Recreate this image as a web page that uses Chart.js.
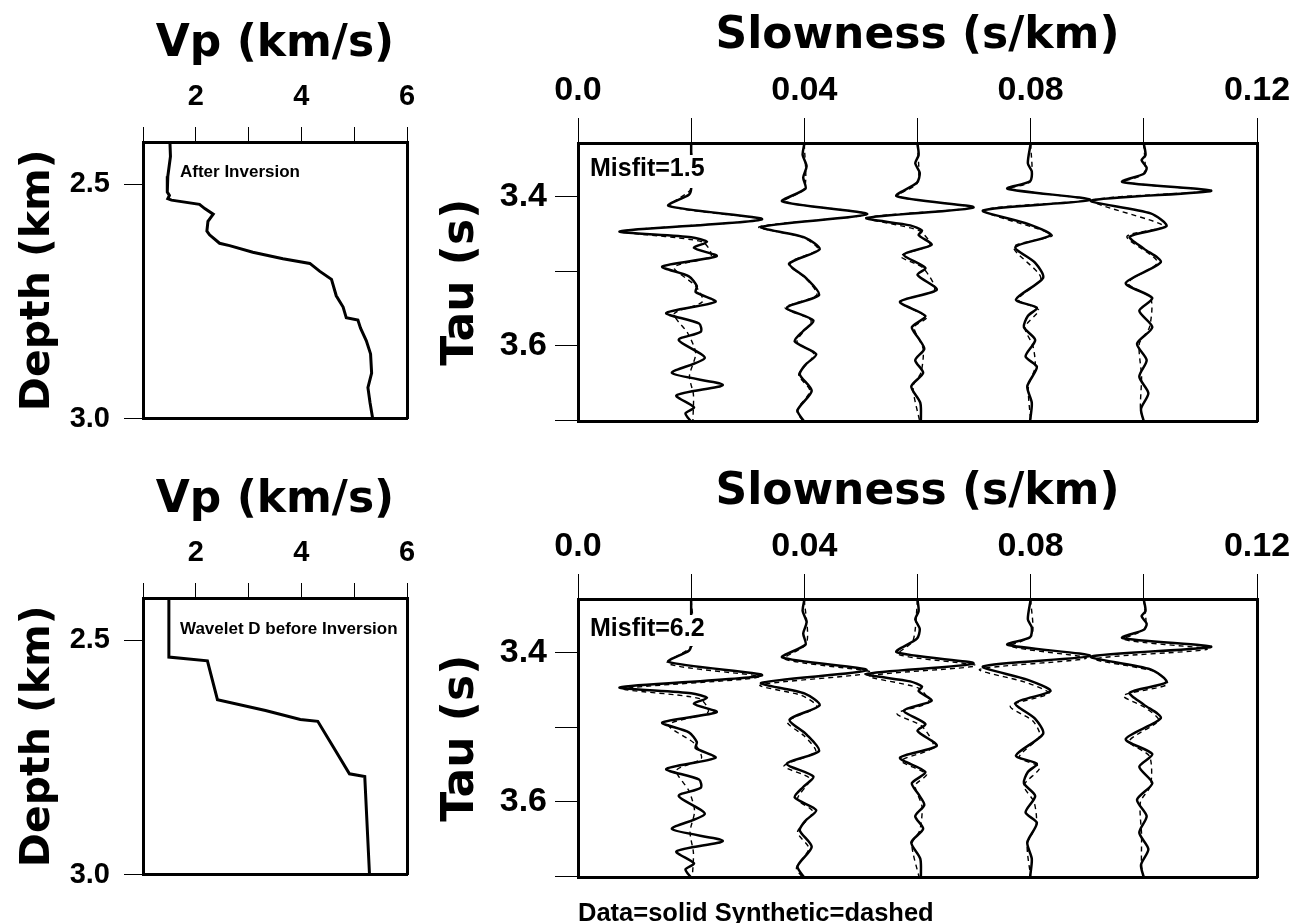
<!DOCTYPE html>
<html>
<head>
<meta charset="utf-8">
<title>Tau-p inversion</title>
<script src="https://cdn.jsdelivr.net/npm/chart.js@4.4.1/dist/chart.umd.min.js"></script>
<style>
  html, body { margin: 0; padding: 0; background: #fff; }
  #page { position: relative; width: 1309px; height: 923px; overflow: hidden; background: #fff; }
  canvas { position: absolute; }
  .note { position: absolute; font-family: 'Liberation Sans', Arial, sans-serif; font-weight: bold; color: #000; white-space: nowrap; line-height: 1; }
</style>
</head>
<body>
<div id="page">
  <canvas id="vpTop" width="430" height="450" style="left:0px;top:0px"></canvas>
  <canvas id="tauTop" width="879" height="450" style="left:430px;top:0px"></canvas>
  <canvas id="vpBottom" width="430" height="450" style="left:0px;top:456px"></canvas>
  <canvas id="tauBottom" width="879" height="450" style="left:430px;top:456px"></canvas>

  <div class="note" style="left:180px;top:163px;font-size:17px">After Inversion</div>
  <div class="note" style="left:180px;top:620px;font-size:17px">Wavelet D before Inversion</div>
  <div class="note" style="left:590px;top:155px;font-size:25px;background:#fff;padding-bottom:8px">Misfit=1.5</div>
  <div class="note" style="left:590px;top:615px;font-size:25px;background:#fff;padding-bottom:6px">Misfit=6.2</div>
  <div class="note" style="left:578px;top:900px;font-size:25.5px">Data=solid Synthetic=dashed</div>
</div>

<script>
// axis ticks
const VP_TICKS = [1, 2, 3, 4, 5, 6];
const VP_LABELS = [2, 4, 6];
const DEPTH_TICKS = [2.5, 3.0];
const SLOW_TICKS = [0, 0.02, 0.04, 0.06, 0.08, 0.10, 0.12];
const SLOW_LABELS = [0, 0.04, 0.08, 0.12];
const TAU_TICKS = [3.4, 3.5, 3.6, 3.7];
const TAU_LABELS = [3.4, 3.6];

// velocity profiles: [depth km, Vp km/s]
const vpAfter = [[2.410,1.51],[2.441,1.52],[2.483,1.47],[2.517,1.46],[2.524,1.50],[2.531,1.47],[2.534,1.54],
  [2.543,2.07],[2.552,2.17],[2.564,2.33],[2.579,2.23],[2.600,2.21],[2.608,2.26],[2.626,2.45],[2.631,2.64],
  [2.645,3.08],[2.659,3.65],[2.669,4.16],[2.686,4.35],[2.703,4.57],[2.738,4.66],[2.762,4.79],[2.785,4.85],
  [2.790,5.07],[2.807,5.12],[2.834,5.23],[2.862,5.31],[2.903,5.33],[2.934,5.26],[2.966,5.30],[3.000,5.35]];
const vpBefore = [[2.412,1.49],[2.536,1.49],[2.544,2.22],[2.627,2.41],[2.650,3.32],[2.669,3.98],[2.673,4.31],
  [2.729,4.61],[2.785,4.91],[2.791,5.20],[3.000,5.29]];

// tau-p traces, one per slowness (s/km): [tau s, offset in s/km]
const SLOWNESS = [0.02, 0.04, 0.06, 0.08, 0.10];

// observed data (solid), same in both panels
const data1 = [[3.330,0],[3.360,0],[3.390,0],[3.398,-0.0004],[3.413,-0.0040],[3.431,0.0125],[3.447,-0.0126],[3.455,0],
  [3.461,0.0028],[3.469,0.0005],[3.480,0.0045],[3.494,-0.0051],[3.507,-0.0004],[3.520,0.0010],[3.528,0.0008],
  [3.541,0.0043],[3.556,-0.0044],[3.570,0.0014],[3.581,0.0017],[3.592,-0.0022],[3.616,0.0024],[3.636,-0.0034],
  [3.652,0.0056],[3.666,-0.0026],[3.682,0.0005],[3.690,-0.0010],[3.701,0]];
const data2 = [[3.330,0],[3.345,-0.0003],[3.360,0.0004],[3.375,-0.0002],[3.390,0.0002],[3.407,-0.0039],[3.424,0.0110],
  [3.441,-0.0076],[3.455,0],[3.471,0.0027],[3.490,-0.0026],[3.510,0.0004],[3.532,0.0026],[3.549,-0.0031],[3.566,0.0016],
  [3.580,-0.0002],[3.594,-0.0017],[3.611,0.0021],[3.625,0.0002],[3.638,-0.0008],[3.660,0.0013],[3.686,-0.0012],[3.701,0]];
const data3 = [[3.330,0],[3.345,0.0002],[3.356,-0.0004],[3.369,0.0004],[3.382,-0.0001],[3.400,-0.0037],[3.415,0.0099],
  [3.429,-0.0090],[3.439,-0.0013],[3.446,0.0008],[3.452,0.0002],[3.465,0.0025],[3.478,-0.0024],[3.496,0.0014],[3.505,0],
  [3.525,0.0034],[3.541,-0.0031],[3.560,0.0014],[3.575,-0.0010],[3.590,0.0002],[3.604,0.0012],[3.619,-0.0004],
  [3.636,0.0010],[3.654,-0.0011],[3.676,0.0005],[3.701,0.0006]];
const data4 = [[3.330,0],[3.356,-0.0005],[3.367,0.0002],[3.380,-0.0001],[3.390,-0.0041],[3.405,0.0105],[3.419,-0.0084],
  [3.437,-0.0005],[3.452,0.0035],[3.468,-0.0027],[3.489,0.0008],[3.509,0.0022],[3.538,-0.0026],[3.549,0.0011],
  [3.560,-0.0005],[3.575,-0.0012],[3.592,0.0008],[3.614,-0.0009],[3.628,0.0011],[3.654,-0.0006],[3.676,0.0002],[3.700,-0.0001]];
const data5 = [[3.330,0],[3.345,0.0003],[3.352,-0.0004],[3.362,0.0005],[3.370,0],[3.381,-0.0038],[3.393,0.0119],
  [3.406,-0.0093],[3.423,0.0012],[3.440,0.0040],[3.454,-0.0025],[3.470,0],[3.488,0.0030],[3.516,-0.0032],[3.536,0.0015],
  [3.553,-0.0008],[3.575,0.0015],[3.597,-0.0012],[3.619,0.0005],[3.641,-0.0008],[3.663,0.0008],[3.684,-0.0005],[3.701,0]];

// synthetics after inversion (dashed, misfit 1.5)
const synAfter1 = [[3.330,0],[3.390,0],[3.413,-0.0038],[3.431,0.0122],[3.447,-0.0120],[3.461,0.0020],[3.480,0.0035],
  [3.495,-0.0030],[3.520,0.0008],[3.541,0.0020],[3.557,-0.0030],[3.583,-0.0006],[3.610,0.0008],[3.640,-0.0003],[3.665,0.0004],[3.701,0.0003]];
const synAfter2 = [[3.330,0],[3.390,0],[3.407,-0.0036],[3.424,0.0112],[3.441,-0.0080],[3.455,-0.0003],[3.471,0.0024],
  [3.490,-0.0028],[3.510,0.0003],[3.532,0.0022],[3.549,-0.0034],[3.566,0.0012],[3.594,-0.0013],[3.611,0.0017],
  [3.638,-0.0010],[3.660,0.0010],[3.686,-0.0013],[3.701,-0.0002]];
const synAfter3 = [[3.330,0],[3.382,0],[3.400,-0.0035],[3.415,0.0097],[3.429,-0.0088],[3.446,0.0003],[3.465,0.0022],
  [3.480,-0.0030],[3.496,0.0010],[3.525,0.0030],[3.541,-0.0030],[3.562,0.0016],[3.575,-0.0006],[3.604,0.0010],
  [3.636,0.0006],[3.654,-0.0008],[3.701,0.0004]];
const synAfter4 = [[3.330,0],[3.380,0],[3.390,-0.0038],[3.405,0.0100],[3.419,-0.0082],[3.452,0.0038],[3.468,-0.0030],
  [3.509,0.0018],[3.538,-0.0022],[3.552,0.0014],[3.575,-0.0010],[3.600,0.0004],[3.628,0.0008],[3.654,-0.0004],[3.700,0]];
const synAfter5 = [[3.330,0],[3.370,0],[3.381,-0.0036],[3.393,0.0115],[3.406,-0.0090],[3.440,0.0036],[3.454,-0.0030],
  [3.488,0.0024],[3.516,-0.0028],[3.536,0.0012],[3.575,0.0010],[3.597,-0.0008],[3.641,-0.0004],[3.684,-0.0006],[3.701,0]];

// synthetics for wavelet D before inversion (dashed, misfit 6.2)
const synBefore1 = [[3.330,0],[3.390,0.0003],[3.415,-0.0042],[3.433,0.0120],[3.449,-0.0118],[3.462,0.0015],[3.480,0.0030],
  [3.497,-0.0040],[3.522,0.0006],[3.542,0.0018],[3.558,-0.0026],[3.585,-0.0004],[3.612,0.0006],[3.640,-0.0002],[3.668,0.0004],[3.701,0.0002]];
const synBefore2 = [[3.330,0],[3.388,0.0004],[3.409,-0.0035],[3.427,0.0118],[3.444,-0.0078],[3.458,-0.0004],[3.473,0.0022],
  [3.493,-0.0030],[3.512,0],[3.533,0.0020],[3.552,-0.0036],[3.569,0.0010],[3.596,-0.0012],[3.613,0.0015],[3.640,-0.0012],
  [3.662,0.0008],[3.688,-0.0014],[3.701,-0.0003]];
const synBefore3 = [[3.330,0],[3.385,-0.0008],[3.403,-0.0034],[3.418,0.0103],[3.432,-0.0085],[3.448,0.0002],[3.467,0.0020],
  [3.482,-0.0036],[3.499,0.0008],[3.527,0.0028],[3.545,-0.0028],[3.563,0.0016],[3.578,-0.0004],[3.606,0.0008],
  [3.638,0.0004],[3.656,-0.0010],[3.701,0.0003]];
const synBefore4 = [[3.330,0],[3.378,0.0002],[3.392,-0.0036],[3.408,0.0098],[3.423,-0.0090],[3.440,-0.0010],[3.455,0.0032],
  [3.472,-0.0036],[3.492,0.0004],[3.512,0.0016],[3.540,-0.0020],[3.554,0.0016],[3.578,-0.0012],[3.600,0.0006],
  [3.630,0.0010],[3.656,-0.0006],[3.700,0]];
const synBefore5 = [[3.330,0],[3.368,0.0002],[3.383,-0.0035],[3.396,0.0112],[3.409,-0.0086],[3.426,0.0020],[3.443,0.0042],
  [3.458,-0.0036],[3.474,0.0002],[3.491,0.0026],[3.519,-0.0026],[3.539,0.0010],[3.578,0.0012],[3.600,-0.0006],
  [3.644,-0.0004],[3.686,-0.0004],[3.701,0]];

const dataTraces = [data1, data2, data3, data4, data5];
const synAfter = [synAfter1, synAfter2, synAfter3, synAfter4, synAfter5];
const synBefore = [synBefore1, synBefore2, synBefore3, synBefore4, synBefore5];

const BLACK = '#000';
const TITLE_FONT = { family: "'DejaVu Sans', sans-serif", weight: 'bold', size: 44, lineHeight: 1.2 };
const DEPTH_FONT = { family: "'DejaVu Sans', sans-serif", weight: 'bold', size: 41, lineHeight: 1.2 };
const VP_TICK_FONT = { family: "'Liberation Sans', Arial, sans-serif", weight: 'bold', size: 29, lineHeight: 1.2 };
const DEPTH_TICK_FONT = { family: "'Liberation Sans', Arial, sans-serif", weight: 'bold', size: 29, lineHeight: 1.2 };
const TAU_TICK_FONT = { family: "'Liberation Sans', Arial, sans-serif", weight: 'bold', size: 34, lineHeight: 1.2 };

function near(list, v) {
  return list.some(l => Math.abs(l - v) < 1e-9);
}

// plain box edges on the right and bottom of each plot
function frameScales() {
  return {
    xb: {
      type: 'linear', position: 'bottom', min: 0, max: 1,
      ticks: { display: false }, grid: { display: false, drawTicks: false },
      border: { display: true, color: BLACK, width: 3 },
      afterFit: a => { a.height = 0; }
    },
    yr: {
      type: 'linear', position: 'right', min: 0, max: 1,
      ticks: { display: false }, grid: { display: false, drawTicks: false },
      border: { display: true, color: BLACK, width: 3 },
      afterFit: a => { a.width = 0; }
    }
  };
}

function profileChart(id, profile) {
  return new Chart(document.getElementById(id), {
    type: 'scatter',
    data: {
      datasets: [{
        data: profile.map(([d, v]) => ({ x: v, y: d })),
        showLine: true,
        borderColor: BLACK,
        borderWidth: 3,
        pointRadius: 0,
        tension: 0
      }]
    },
    options: {
      responsive: false,
      animation: false,
      events: [],
      layout: { padding: { left: 0, top: 0, right: 23, bottom: 23 } },
      plugins: { legend: { display: false }, tooltip: { enabled: false } },
      scales: {
        x: {
          type: 'linear', position: 'top', min: 1, max: 6,
          afterBuildTicks: a => { a.ticks = VP_TICKS.map(v => ({ value: v })); },
          afterFit: a => { a.height = 142; },
          ticks: { color: BLACK, padding: 13, maxRotation: 0, font: VP_TICK_FONT,
            callback: v => near(VP_LABELS, v) ? String(v) : '' },
          grid: { drawOnChartArea: false, tickLength: 15, color: BLACK, lineWidth: 1 },
          border: { color: BLACK, width: 3 },
          title: { display: true, text: 'Vp (km/s)', color: BLACK, padding: { top: 18, bottom: 0 }, font: TITLE_FONT }
        },
        y: {
          type: 'linear', position: 'left', min: 2.41, max: 3.0, reverse: true,
          afterBuildTicks: a => { a.ticks = DEPTH_TICKS.map(v => ({ value: v })); },
          afterFit: a => { a.width = 143; },
          ticks: { color: BLACK, padding: 14, font: DEPTH_TICK_FONT, callback: v => v.toFixed(1) },
          grid: { drawOnChartArea: false, tickLength: 19, color: BLACK, lineWidth: 1 },
          border: { color: BLACK, width: 3 },
          title: { display: true, text: 'Depth (km)', color: BLACK, padding: { top: 14, bottom: 0 }, font: DEPTH_FONT }
        },
        ...frameScales()
      }
    }
  });
}

function traceSets(traces, dashed) {
  return traces.map((pts, i) => ({
    data: pts.map(([tau, off]) => ({ x: SLOWNESS[i] + off, y: tau })),
    showLine: true,
    borderColor: BLACK,
    borderWidth: dashed ? 1.4 : 2.5,
    borderDash: dashed ? [5, 4] : [],
    pointRadius: 0,
    tension: 0.25
  }));
}

function tauChart(id, synthetics) {
  return new Chart(document.getElementById(id), {
    type: 'scatter',
    data: { datasets: [...traceSets(dataTraces, false), ...traceSets(synthetics, true)] },
    options: {
      responsive: false,
      animation: false,
      events: [],
      layout: { padding: { left: 0, top: 0, right: 52, bottom: 23 } },
      plugins: { legend: { display: false }, tooltip: { enabled: false } },
      scales: {
        x: {
          type: 'linear', position: 'top', min: 0, max: 0.12,
          afterBuildTicks: a => { a.ticks = SLOW_TICKS.map(v => ({ value: v })); },
          afterFit: a => { a.height = 143; },
          ticks: { color: BLACK, padding: 7, maxRotation: 0, font: TAU_TICK_FONT,
            callback: v => near(SLOW_LABELS, v) ? (v === 0 ? '0.0' : v.toFixed(2)) : '' },
          grid: { drawOnChartArea: false, tickLength: 25, color: BLACK, lineWidth: 1 },
          border: { color: BLACK, width: 3 },
          title: { display: true, text: 'Slowness (s/km)', color: BLACK, padding: { top: 10, bottom: 0 }, font: TITLE_FONT }
        },
        y: {
          type: 'linear', position: 'left', min: 3.329, max: 3.701, reverse: true,
          afterBuildTicks: a => { a.ticks = TAU_TICKS.map(v => ({ value: v })); },
          afterFit: a => { a.width = 148; },
          ticks: { color: BLACK, padding: 8, font: TAU_TICK_FONT,
            callback: v => near(TAU_LABELS, v) ? v.toFixed(1) : '' },
          grid: { drawOnChartArea: false, tickLength: 23, color: BLACK, lineWidth: 1 },
          border: { color: BLACK, width: 3 },
          title: { display: true, text: 'Tau (s)', color: BLACK, padding: { top: 5, bottom: 0 }, font: TITLE_FONT }
        },
        ...frameScales()
      }
    }
  });
}

profileChart('vpTop', vpAfter);
profileChart('vpBottom', vpBefore);
tauChart('tauTop', synAfter);
tauChart('tauBottom', synBefore);
</script>
</body>
</html>
